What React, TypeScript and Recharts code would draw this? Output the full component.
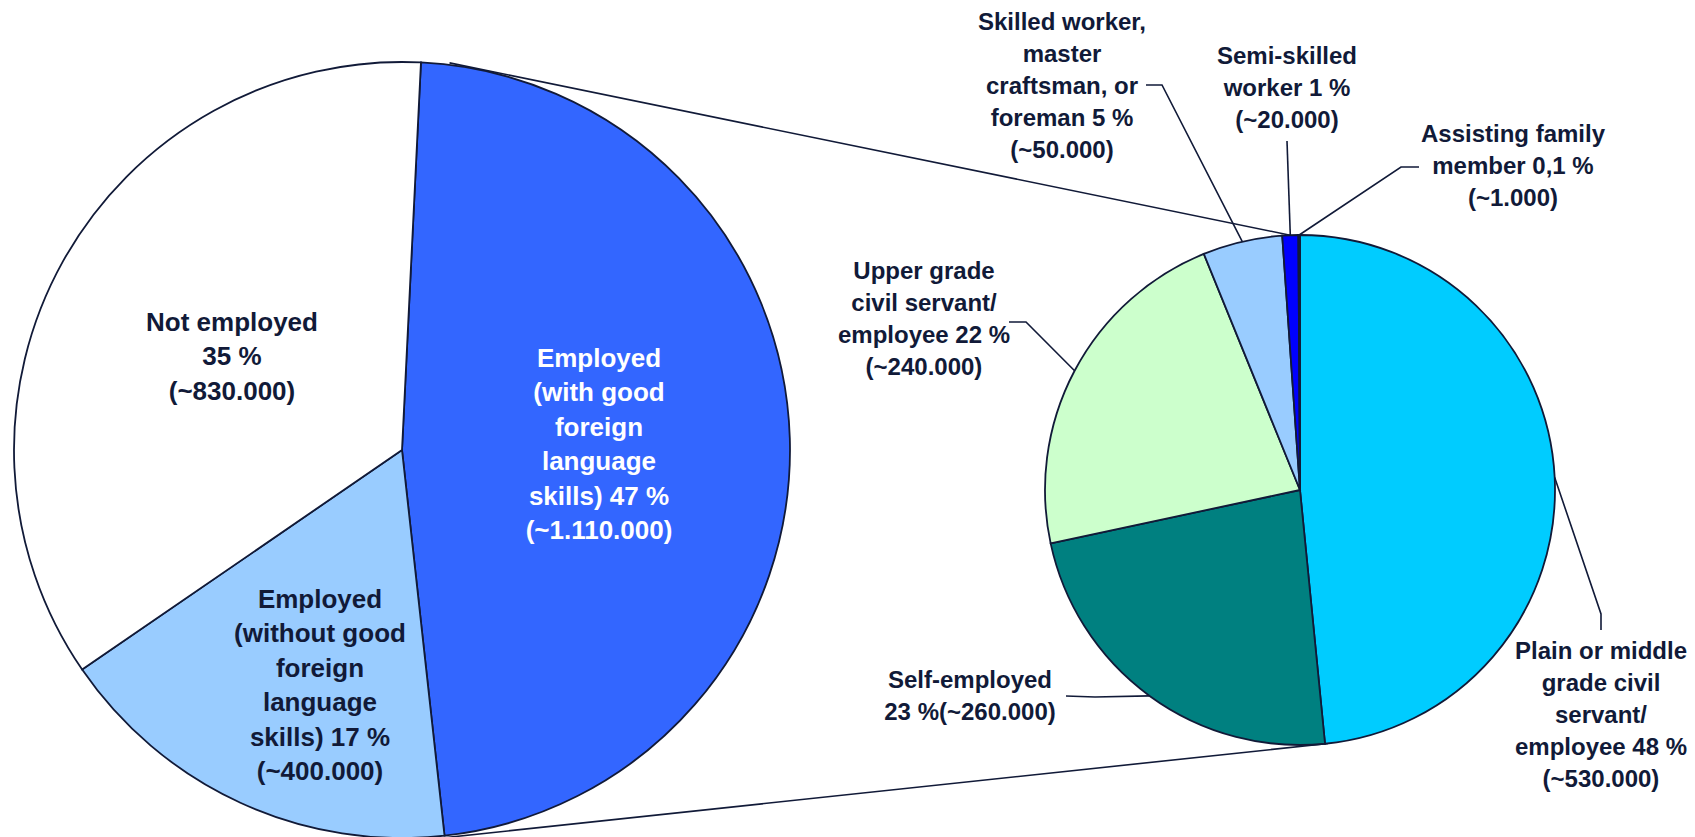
import { PieChart, Pie, Cell, Customized } from 'recharts'

// overview pie: everybody, split by employment
const overviewNames = [
  'Employed (with good foreign language skills)',
  'Employed (without good foreign language skills)',
  'Not employed',
]
const overviewShares = [47, 17, 35]
const overviewLines = [
  ['Employed', '(with good', 'foreign', 'language', 'skills) 47 %', '(~1.110.000)'],
  ['Employed', '(without good', 'foreign', 'language', 'skills) 17 %', '(~400.000)'],
  ['Not employed', '35 %', '(~830.000)'],
]
const overviewColors = ['#3366FF', '#99CCFF', '#FFFFFF']
const overviewTextColors = ['#FFFFFF', '#111a38', '#111a38']

// detail pie: the employed with good foreign language skills
const detailNames = [
  'Plain or middle grade civil servant/employee',
  'Self-employed',
  'Upper grade civil servant/employee',
  'Skilled worker, master craftsman, or foreman',
  'Semi-skilled worker',
  'Assisting family member',
]
const detailShares = [48, 23, 22, 5, 1, 0.1]
const detailLines = [
  ['Plain or middle', 'grade civil', 'servant/', 'employee 48 %', '(~530.000)'],
  ['Self-employed', '23 %(~260.000)'],
  ['Upper grade', 'civil servant/', 'employee 22 %', '(~240.000)'],
  ['Skilled worker,', 'master', 'craftsman, or', 'foreman 5 %', '(~50.000)'],
  ['Semi-skilled', 'worker 1 %', '(~20.000)'],
  ['Assisting family', 'member 0,1 %', '(~1.000)'],
]
const detailColors = ['#00CCFF', '#008080', '#CCFFCC', '#99CCFF', '#0000FF', '#FFFF99']

const overviewData = overviewNames.map((name, i) => ({ name, value: overviewShares[i] }))
const detailData = detailNames.map((name, i) => ({ name, value: detailShares[i] }))

const INK = '#111a38'
const FONT = 'Arial, "Liberation Sans", sans-serif'
const RAD = Math.PI / 180

const LEFT = { cx: 402, cy: 450, r: 388 }
const RIGHT = { cx: 1300, cy: 490, r: 255 }

// label anchors, relative to the pie centre (text x, first line y)
const overviewSpots = [
  { dx: 197, dy: -92 },
  { dx: -82, dy: 149 },
  { dx: -170, dy: -128 },
]
// detail labels also get a leader line: tail -> elbow -> slice edge
const detailSpots = [
  { dx: 301, dy: 160, tail: [301, 140], elbow: [301, 124] },
  { dx: -330, dy: 189, tail: [-234, 206], elbow: [-205, 207] },
  { dx: -376, dy: -220, tail: [-291, -168], elbow: [-274, -168] },
  { dx: -238, dy: -469, tail: [-154, -405], elbow: [-138, -405] },
  { dx: -13, dy: -435, tail: [-13, -349], elbow: [-13, -349] },
  { dx: 213, dy: -357, tail: [119, -323], elbow: [101, -323] },
]

// the two lines that tie the blue slice to the detail pie (recharts angles)
const connectors = [
  { from: 83, to: 92.2 },
  { from: -84, to: -83.7 },
]

const polar = (c: { cx: number; cy: number }, r: number, deg: number) => [
  c.cx + r * Math.cos(-deg * RAD),
  c.cy + r * Math.sin(-deg * RAD),
]

function TextBlock({ x, y, lines, size, gap, fill }: any) {
  return (
    <g>
      {lines.map((t: string, i: number) => (
        <text
          key={i}
          x={x}
          y={y + i * gap}
          textAnchor="middle"
          dominantBaseline="central"
          fontFamily={FONT}
          fontWeight="bold"
          fontSize={size}
          fill={fill}
        >
          {t}
        </text>
      ))}
    </g>
  )
}

const overviewLabel = (props: any) => {
  const { cx, cy, index } = props
  const s = overviewSpots[index]
  return (
    <TextBlock
      x={cx + s.dx}
      y={cy + s.dy}
      lines={overviewLines[index]}
      size={26}
      gap={34.4}
      fill={overviewTextColors[index]}
    />
  )
}

const detailLabel = (props: any) => {
  const { cx, cy, midAngle, outerRadius, index } = props
  const s = detailSpots[index]
  const ex = cx + outerRadius * Math.cos(-midAngle * RAD)
  const ey = cy + outerRadius * Math.sin(-midAngle * RAD)
  const pts = `${cx + s.tail[0]},${cy + s.tail[1]} ${cx + s.elbow[0]},${cy + s.elbow[1]} ${ex},${ey}`
  return (
    <g>
      <polyline points={pts} fill="none" stroke={INK} strokeWidth={1.6} />
      <TextBlock x={cx + s.dx} y={cy + s.dy} lines={detailLines[index]} size={24} gap={32} fill={INK} />
    </g>
  )
}

function Connectors() {
  return (
    <g>
      {connectors.map((c, i) => {
        const [x1, y1] = polar(LEFT, LEFT.r + 2, c.from)
        const [x2, y2] = polar(RIGHT, RIGHT.r, c.to)
        return <line key={i} x1={x1} y1={y1} x2={x2} y2={y2} stroke={INK} strokeWidth={1.6} />
      })}
    </g>
  )
}

export default function App() {
  return (
    <div style={{ position: 'absolute', left: 0, top: 0, width: 1695, height: 837, background: '#fff' }}>
      <PieChart width={1695} height={837} margin={{ top: 0, right: 0, bottom: 0, left: 0 }}>
        <Customized component={Connectors} />
        <Pie
          data={overviewData}
          dataKey="value"
          nameKey="name"
          cx={LEFT.cx}
          cy={LEFT.cy}
          outerRadius={LEFT.r}
          startAngle={87.2}
          endAngle={-272.8}
          stroke={INK}
          strokeWidth={1.8}
          label={overviewLabel}
          labelLine={false}
          isAnimationActive={false}
        >
          {overviewData.map((d, i) => (
            <Cell key={d.name} fill={overviewColors[i]} />
          ))}
        </Pie>
        <Pie
          data={detailData}
          dataKey="value"
          nameKey="name"
          cx={RIGHT.cx}
          cy={RIGHT.cy}
          outerRadius={RIGHT.r}
          startAngle={90}
          endAngle={-270}
          stroke={INK}
          strokeWidth={1.8}
          label={detailLabel}
          labelLine={false}
          isAnimationActive={false}
        >
          {detailData.map((d, i) => (
            <Cell key={d.name} fill={detailColors[i]} />
          ))}
        </Pie>
      </PieChart>
    </div>
  )
}
